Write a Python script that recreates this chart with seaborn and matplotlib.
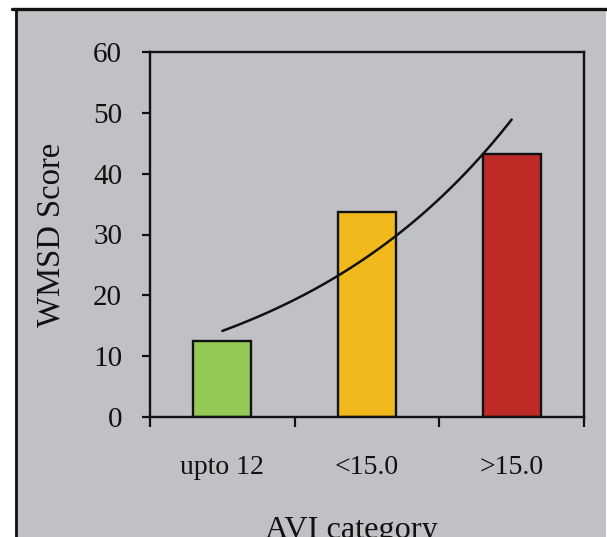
import numpy as np
import pandas as pd
import matplotlib
matplotlib.use("Agg")
import matplotlib.pyplot as plt
from matplotlib.patches import Rectangle
from matplotlib.lines import Line2D
import seaborn as sns

categories = ["upto 12", "<15.0", ">15.0"]
scores = [12.5, 33.7, 43.2]
bar_colors = ["#93C954", "#F1B91B", "#BE2A25"]
y_ticks = [0, 10, 20, 30, 40, 50, 60]

GRAY = "#C0C1C5"
INK = "#111111"

sns.set_theme(style="white")
plt.rcParams["font.family"] = ["Liberation Serif", "DejaVu Serif"]

W, H = 607, 537
fig = plt.figure(figsize=(W / 100, H / 100), dpi=100)
fig.patch.set_facecolor("white")

# framed gray panel (behind the axes)
fig.patches.append(Rectangle((15 / W, 0), (606 - 15) / W, 1 - 8 / H,
                             transform=fig.transFigure, facecolor=GRAY,
                             edgecolor="none", zorder=-10))
fig.lines.append(Line2D([12 / W, 1], [1 - 8.5 / H, 1 - 8.5 / H],
                        transform=fig.transFigure, color=INK, lw=2.4,
                        zorder=-5))
fig.lines.append(Line2D([16 / W, 16 / W], [0, 1 - 8.5 / H],
                        transform=fig.transFigure, color=INK, lw=2.0,
                        zorder=-5))

ax = fig.add_axes([150 / W, 1 - 417 / H, (584 - 150) / W, (417 - 52) / H])
ax.set_facecolor(GRAY)

df = pd.DataFrame({"cat": categories, "score": scores})
sns.barplot(data=df, x="cat", y="score", hue="cat", palette=bar_colors,
            saturation=1, width=0.4, edgecolor=INK, linewidth=1.7,
            legend=False, ax=ax)

# exponential trendline fitted to the bar values
xi = np.arange(len(scores))
b, a = np.polyfit(xi, np.log(scores), 1)
xs = np.linspace(0, len(scores) - 1, 100)
ax.plot(xs, np.exp(a + b * xs), color=INK, lw=1.8)

ax.set_xlim(-0.5, len(categories) - 0.5)
ax.set_ylim(0, 60)
ax.set_yticks(y_ticks)
ax.set_yticklabels([str(t) for t in y_ticks], fontsize=21)

ax.set_xticks(np.arange(-0.5, len(categories), 1.0))
ax.set_xticklabels([])
ax.set_xticks(np.arange(len(categories)), minor=True)
ax.set_xticklabels(categories, minor=True, fontsize=20)
ax.tick_params(axis="x", which="major", direction="out", length=7.5, width=1.6,
               color=INK, bottom=True)
ax.tick_params(axis="x", which="minor", length=0, pad=27, labelcolor=INK)
ax.tick_params(axis="y", direction="out", length=6, width=1.6,
               color=INK, left=True, pad=14, labelcolor=INK)

for s in ax.spines.values():
    s.set_visible(True)
    s.set_color(INK)
    s.set_linewidth(1.7)

ax.set_xlabel("AVI category", fontsize=23.2, labelpad=26, color=INK)
ax.xaxis.label.set_x(0.465)
ax.set_ylabel("WMSD Score", fontsize=23.5, labelpad=19, color=INK)

fig.savefig("out.png", dpi=100, facecolor=fig.get_facecolor())
